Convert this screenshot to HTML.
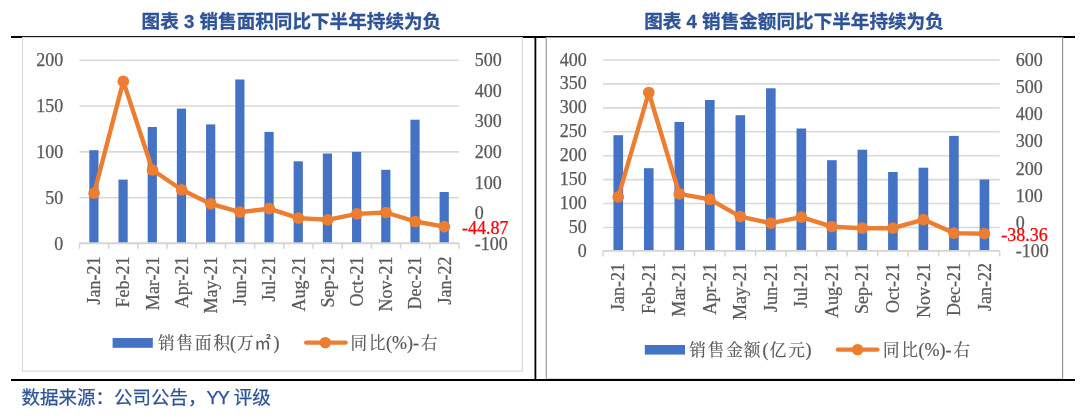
<!DOCTYPE html>
<html lang="zh"><head><meta charset="utf-8"><title>chart</title>
<style>
html,body{margin:0;padding:0;background:#fff;}
body{width:1080px;height:417px;position:relative;overflow:hidden;font-family:"Liberation Sans","Noto Sans CJK SC",sans-serif;}
.title{position:absolute;top:9.5px;height:24px;line-height:24px;font-size:18.6px;font-weight:bold;color:#2F5496;-webkit-text-stroke:0.3px #2F5496;white-space:nowrap;transform:translateX(-50%);}
.foot{position:absolute;left:21.5px;top:385.2px;height:26px;line-height:26px;font-size:18.5px;color:#2F5496;-webkit-text-stroke:0.25px #2F5496;white-space:nowrap;}
.hl{position:absolute;background:#000;}
.box{position:absolute;background:#fff;box-sizing:border-box;}
svg{position:absolute;left:0;top:0;}
.ax{font-family:"Liberation Serif",serif;font-size:18px;fill:#595959;stroke:#595959;stroke-width:0.25px;}
.lg{font-family:"Liberation Serif","Noto Serif CJK SC",serif;font-size:18px;fill:#595959;stroke:#595959;stroke-width:0.2px;}
.cj{font-size:16.5px;}
</style></head><body>
<div class="title" style="left:291.4px">图表 3 销售面积同比下半年持续为负</div>
<div class="title" style="left:794px">图表 4 销售金额同比下半年持续为负</div>
<div class="hl" style="left:11px;top:36px;width:1064px;height:2px"></div>
<div class="hl" style="left:11px;top:379px;width:1064px;height:2px"></div>
<svg width="1080" height="417" viewBox="0 0 1080 417">
<rect x="534.5" y="37" width="1.8" height="343" fill="#000"/>
<rect x="22.5" y="37.5" width="499.8" height="333.6" fill="#fff" stroke="#D9D9D9" stroke-width="1.2"/>
<path d="M546.3 379 V37.5 H1062.6 V379" fill="#fff" stroke="#999" stroke-width="1.2"/>
<line x1="546.3" y1="378.3" x2="1062.6" y2="378.3" stroke="#D9D9D9" stroke-width="1"/>
<line x1="79.5" y1="60.20" x2="459.0" y2="60.20" stroke="#D9D9D9" stroke-width="1.6"/>
<text x="63.3" y="66.10" text-anchor="end" class="ax">200</text>
<line x1="79.5" y1="106.05" x2="459.0" y2="106.05" stroke="#D9D9D9" stroke-width="1.6"/>
<text x="63.3" y="111.98" text-anchor="end" class="ax">150</text>
<line x1="79.5" y1="151.90" x2="459.0" y2="151.90" stroke="#D9D9D9" stroke-width="1.6"/>
<text x="63.3" y="157.85" text-anchor="end" class="ax">100</text>
<line x1="79.5" y1="197.75" x2="459.0" y2="197.75" stroke="#D9D9D9" stroke-width="1.6"/>
<text x="63.3" y="203.72" text-anchor="end" class="ax">50</text>
<text x="63.3" y="249.60" text-anchor="end" class="ax">0</text>
<text x="474.7" y="66.10" class="ax">500</text>
<text x="474.7" y="96.72" class="ax">400</text>
<text x="474.7" y="127.33" class="ax">300</text>
<text x="474.7" y="157.95" class="ax">200</text>
<text x="474.7" y="188.57" class="ax">100</text>
<text x="474.7" y="219.18" class="ax">0</text>
<text x="474.7" y="249.80" class="ax">-100</text>
<line x1="79.50" y1="243.2" x2="79.50" y2="248.7" stroke="#D4D4D4" stroke-width="1.5"/>
<line x1="108.69" y1="243.2" x2="108.69" y2="248.7" stroke="#D4D4D4" stroke-width="1.5"/>
<line x1="137.88" y1="243.2" x2="137.88" y2="248.7" stroke="#D4D4D4" stroke-width="1.5"/>
<line x1="167.08" y1="243.2" x2="167.08" y2="248.7" stroke="#D4D4D4" stroke-width="1.5"/>
<line x1="196.27" y1="243.2" x2="196.27" y2="248.7" stroke="#D4D4D4" stroke-width="1.5"/>
<line x1="225.46" y1="243.2" x2="225.46" y2="248.7" stroke="#D4D4D4" stroke-width="1.5"/>
<line x1="254.65" y1="243.2" x2="254.65" y2="248.7" stroke="#D4D4D4" stroke-width="1.5"/>
<line x1="283.85" y1="243.2" x2="283.85" y2="248.7" stroke="#D4D4D4" stroke-width="1.5"/>
<line x1="313.04" y1="243.2" x2="313.04" y2="248.7" stroke="#D4D4D4" stroke-width="1.5"/>
<line x1="342.23" y1="243.2" x2="342.23" y2="248.7" stroke="#D4D4D4" stroke-width="1.5"/>
<line x1="371.42" y1="243.2" x2="371.42" y2="248.7" stroke="#D4D4D4" stroke-width="1.5"/>
<line x1="400.62" y1="243.2" x2="400.62" y2="248.7" stroke="#D4D4D4" stroke-width="1.5"/>
<line x1="429.81" y1="243.2" x2="429.81" y2="248.7" stroke="#D4D4D4" stroke-width="1.5"/>
<line x1="459.00" y1="243.2" x2="459.00" y2="248.7" stroke="#D4D4D4" stroke-width="1.5"/>
<rect x="89.30" y="150.20" width="9.2" height="93.00" fill="#4472C4"/>
<rect x="118.49" y="179.60" width="9.2" height="63.60" fill="#4472C4"/>
<rect x="147.68" y="127.00" width="9.2" height="116.20" fill="#4472C4"/>
<rect x="176.87" y="108.60" width="9.2" height="134.60" fill="#4472C4"/>
<rect x="206.07" y="124.40" width="9.2" height="118.80" fill="#4472C4"/>
<rect x="235.26" y="79.50" width="9.2" height="163.70" fill="#4472C4"/>
<rect x="264.45" y="131.90" width="9.2" height="111.30" fill="#4472C4"/>
<rect x="293.64" y="161.30" width="9.2" height="81.90" fill="#4472C4"/>
<rect x="322.83" y="153.50" width="9.2" height="89.70" fill="#4472C4"/>
<rect x="352.03" y="151.90" width="9.2" height="91.30" fill="#4472C4"/>
<rect x="381.22" y="169.80" width="9.2" height="73.40" fill="#4472C4"/>
<rect x="410.41" y="119.70" width="9.2" height="123.50" fill="#4472C4"/>
<rect x="439.60" y="192.00" width="9.2" height="51.20" fill="#4472C4"/>
<line x1="79.5" y1="243.2" x2="459.0" y2="243.2" stroke="#D4D4D4" stroke-width="1.9"/>
<text transform="translate(100.20,256.5) rotate(-90)" text-anchor="end" class="ax">Jan-21</text>
<text transform="translate(129.39,256.5) rotate(-90)" text-anchor="end" class="ax">Feb-21</text>
<text transform="translate(158.58,256.5) rotate(-90)" text-anchor="end" class="ax">Mar-21</text>
<text transform="translate(187.77,256.5) rotate(-90)" text-anchor="end" class="ax">Apr-21</text>
<text transform="translate(216.97,256.5) rotate(-90)" text-anchor="end" class="ax">May-21</text>
<text transform="translate(246.16,256.5) rotate(-90)" text-anchor="end" class="ax">Jun-21</text>
<text transform="translate(275.35,256.5) rotate(-90)" text-anchor="end" class="ax">Jul-21</text>
<text transform="translate(304.54,256.5) rotate(-90)" text-anchor="end" class="ax">Aug-21</text>
<text transform="translate(333.73,256.5) rotate(-90)" text-anchor="end" class="ax">Sep-21</text>
<text transform="translate(362.93,256.5) rotate(-90)" text-anchor="end" class="ax">Oct-21</text>
<text transform="translate(392.12,256.5) rotate(-90)" text-anchor="end" class="ax">Nov-21</text>
<text transform="translate(421.31,256.5) rotate(-90)" text-anchor="end" class="ax">Dec-21</text>
<text transform="translate(450.50,256.5) rotate(-90)" text-anchor="end" class="ax">Jan-22</text>
<polyline points="94.10,193.20 123.29,81.40 152.48,170.00 181.67,189.80 210.87,203.90 240.06,212.10 269.25,208.70 298.44,218.10 327.63,219.80 356.83,213.90 386.02,212.50 415.21,221.50 444.40,226.60" fill="none" stroke="#ED7D31" stroke-width="4.4" stroke-linejoin="round" stroke-linecap="round"/>
<circle cx="94.10" cy="193.20" r="5.85" fill="#ED7D31"/>
<circle cx="123.29" cy="81.40" r="5.85" fill="#ED7D31"/>
<circle cx="152.48" cy="170.00" r="5.85" fill="#ED7D31"/>
<circle cx="181.67" cy="189.80" r="5.85" fill="#ED7D31"/>
<circle cx="210.87" cy="203.90" r="5.85" fill="#ED7D31"/>
<circle cx="240.06" cy="212.10" r="5.85" fill="#ED7D31"/>
<circle cx="269.25" cy="208.70" r="5.85" fill="#ED7D31"/>
<circle cx="298.44" cy="218.10" r="5.85" fill="#ED7D31"/>
<circle cx="327.63" cy="219.80" r="5.85" fill="#ED7D31"/>
<circle cx="356.83" cy="213.90" r="5.85" fill="#ED7D31"/>
<circle cx="386.02" cy="212.50" r="5.85" fill="#ED7D31"/>
<circle cx="415.21" cy="221.50" r="5.85" fill="#ED7D31"/>
<circle cx="444.40" cy="226.60" r="5.85" fill="#ED7D31"/>
<text x="462" y="234" class="ax" style="fill:#FF0000;stroke:#FF0000">-44.87</text>
<rect x="112.6" y="338" width="40.2" height="9.8" fill="#4472C4"/>
<text y="348.6" class="lg"><tspan class="cj" x="158 176.5 195 213.5">销售面积</tspan><tspan x="230">(</tspan><tspan class="cj" x="237">万</tspan><tspan class="cj" x="254.5" style="font-family:'Liberation Sans','Noto Sans CJK SC',sans-serif">㎡</tspan><tspan x="273.6">)</tspan></text>
<line x1="306.2" y1="342.6" x2="345.6" y2="342.6" stroke="#ED7D31" stroke-width="4.4" stroke-linecap="round"/>
<circle cx="325.3" cy="342.6" r="5.7" fill="#ED7D31"/>
<text y="348.6" class="lg"><tspan class="cj" x="350.6 369.1">同比</tspan><tspan x="386">(%)-</tspan><tspan class="cj" x="421">右</tspan></text>
<line x1="603.0" y1="60.00" x2="999.7" y2="60.00" stroke="#D9D9D9" stroke-width="1.6"/>
<text x="586.8" y="65.50" text-anchor="end" class="ax">400</text>
<line x1="603.0" y1="83.92" x2="999.7" y2="83.92" stroke="#D9D9D9" stroke-width="1.6"/>
<text x="586.8" y="89.46" text-anchor="end" class="ax">350</text>
<line x1="603.0" y1="107.85" x2="999.7" y2="107.85" stroke="#D9D9D9" stroke-width="1.6"/>
<text x="586.8" y="113.42" text-anchor="end" class="ax">300</text>
<line x1="603.0" y1="131.78" x2="999.7" y2="131.78" stroke="#D9D9D9" stroke-width="1.6"/>
<text x="586.8" y="137.39" text-anchor="end" class="ax">250</text>
<line x1="603.0" y1="155.70" x2="999.7" y2="155.70" stroke="#D9D9D9" stroke-width="1.6"/>
<text x="586.8" y="161.35" text-anchor="end" class="ax">200</text>
<line x1="603.0" y1="179.62" x2="999.7" y2="179.62" stroke="#D9D9D9" stroke-width="1.6"/>
<text x="586.8" y="185.31" text-anchor="end" class="ax">150</text>
<line x1="603.0" y1="203.55" x2="999.7" y2="203.55" stroke="#D9D9D9" stroke-width="1.6"/>
<text x="586.8" y="209.28" text-anchor="end" class="ax">100</text>
<line x1="603.0" y1="227.47" x2="999.7" y2="227.47" stroke="#D9D9D9" stroke-width="1.6"/>
<text x="586.8" y="233.24" text-anchor="end" class="ax">50</text>
<text x="586.8" y="257.20" text-anchor="end" class="ax">0</text>
<text x="1015.8" y="65.50" class="ax">600</text>
<text x="1015.8" y="92.83" class="ax">500</text>
<text x="1015.8" y="120.16" class="ax">400</text>
<text x="1015.8" y="147.49" class="ax">300</text>
<text x="1015.8" y="174.81" class="ax">200</text>
<text x="1015.8" y="202.14" class="ax">100</text>
<text x="1015.8" y="229.47" class="ax">0</text>
<text x="1015.8" y="256.80" class="ax">-100</text>
<line x1="603.00" y1="250.9" x2="603.00" y2="256.4" stroke="#D4D4D4" stroke-width="1.5"/>
<line x1="633.52" y1="250.9" x2="633.52" y2="256.4" stroke="#D4D4D4" stroke-width="1.5"/>
<line x1="664.03" y1="250.9" x2="664.03" y2="256.4" stroke="#D4D4D4" stroke-width="1.5"/>
<line x1="694.55" y1="250.9" x2="694.55" y2="256.4" stroke="#D4D4D4" stroke-width="1.5"/>
<line x1="725.06" y1="250.9" x2="725.06" y2="256.4" stroke="#D4D4D4" stroke-width="1.5"/>
<line x1="755.58" y1="250.9" x2="755.58" y2="256.4" stroke="#D4D4D4" stroke-width="1.5"/>
<line x1="786.09" y1="250.9" x2="786.09" y2="256.4" stroke="#D4D4D4" stroke-width="1.5"/>
<line x1="816.61" y1="250.9" x2="816.61" y2="256.4" stroke="#D4D4D4" stroke-width="1.5"/>
<line x1="847.12" y1="250.9" x2="847.12" y2="256.4" stroke="#D4D4D4" stroke-width="1.5"/>
<line x1="877.64" y1="250.9" x2="877.64" y2="256.4" stroke="#D4D4D4" stroke-width="1.5"/>
<line x1="908.15" y1="250.9" x2="908.15" y2="256.4" stroke="#D4D4D4" stroke-width="1.5"/>
<line x1="938.67" y1="250.9" x2="938.67" y2="256.4" stroke="#D4D4D4" stroke-width="1.5"/>
<line x1="969.18" y1="250.9" x2="969.18" y2="256.4" stroke="#D4D4D4" stroke-width="1.5"/>
<line x1="999.70" y1="250.9" x2="999.70" y2="256.4" stroke="#D4D4D4" stroke-width="1.5"/>
<rect x="613.46" y="135.20" width="9.6" height="115.70" fill="#4472C4"/>
<rect x="643.97" y="168.20" width="9.6" height="82.70" fill="#4472C4"/>
<rect x="674.49" y="122.00" width="9.6" height="128.90" fill="#4472C4"/>
<rect x="705.00" y="100.00" width="9.6" height="150.90" fill="#4472C4"/>
<rect x="735.52" y="115.20" width="9.6" height="135.70" fill="#4472C4"/>
<rect x="766.03" y="88.30" width="9.6" height="162.60" fill="#4472C4"/>
<rect x="796.55" y="128.50" width="9.6" height="122.40" fill="#4472C4"/>
<rect x="827.07" y="160.20" width="9.6" height="90.70" fill="#4472C4"/>
<rect x="857.58" y="149.70" width="9.6" height="101.20" fill="#4472C4"/>
<rect x="888.10" y="172.00" width="9.6" height="78.90" fill="#4472C4"/>
<rect x="918.61" y="167.70" width="9.6" height="83.20" fill="#4472C4"/>
<rect x="949.13" y="135.90" width="9.6" height="115.00" fill="#4472C4"/>
<rect x="979.64" y="179.50" width="9.6" height="71.40" fill="#4472C4"/>
<line x1="603.0" y1="250.9" x2="999.7" y2="250.9" stroke="#D4D4D4" stroke-width="1.9"/>
<text transform="translate(624.36,263) rotate(-90)" text-anchor="end" class="ax">Jan-21</text>
<text transform="translate(654.87,263) rotate(-90)" text-anchor="end" class="ax">Feb-21</text>
<text transform="translate(685.39,263) rotate(-90)" text-anchor="end" class="ax">Mar-21</text>
<text transform="translate(715.90,263) rotate(-90)" text-anchor="end" class="ax">Apr-21</text>
<text transform="translate(746.42,263) rotate(-90)" text-anchor="end" class="ax">May-21</text>
<text transform="translate(776.93,263) rotate(-90)" text-anchor="end" class="ax">Jun-21</text>
<text transform="translate(807.45,263) rotate(-90)" text-anchor="end" class="ax">Jul-21</text>
<text transform="translate(837.97,263) rotate(-90)" text-anchor="end" class="ax">Aug-21</text>
<text transform="translate(868.48,263) rotate(-90)" text-anchor="end" class="ax">Sep-21</text>
<text transform="translate(899.00,263) rotate(-90)" text-anchor="end" class="ax">Oct-21</text>
<text transform="translate(929.51,263) rotate(-90)" text-anchor="end" class="ax">Nov-21</text>
<text transform="translate(960.03,263) rotate(-90)" text-anchor="end" class="ax">Dec-21</text>
<text transform="translate(990.54,263) rotate(-90)" text-anchor="end" class="ax">Jan-22</text>
<polyline points="618.26,196.90 648.77,92.50 679.29,193.80 709.80,199.30 740.32,216.60 770.83,223.10 801.35,217.10 831.87,226.70 862.38,228.20 892.90,228.20 923.41,219.60 953.93,233.10 984.44,233.70" fill="none" stroke="#ED7D31" stroke-width="4.4" stroke-linejoin="round" stroke-linecap="round"/>
<circle cx="618.26" cy="196.90" r="5.85" fill="#ED7D31"/>
<circle cx="648.77" cy="92.50" r="5.85" fill="#ED7D31"/>
<circle cx="679.29" cy="193.80" r="5.85" fill="#ED7D31"/>
<circle cx="709.80" cy="199.30" r="5.85" fill="#ED7D31"/>
<circle cx="740.32" cy="216.60" r="5.85" fill="#ED7D31"/>
<circle cx="770.83" cy="223.10" r="5.85" fill="#ED7D31"/>
<circle cx="801.35" cy="217.10" r="5.85" fill="#ED7D31"/>
<circle cx="831.87" cy="226.70" r="5.85" fill="#ED7D31"/>
<circle cx="862.38" cy="228.20" r="5.85" fill="#ED7D31"/>
<circle cx="892.90" cy="228.20" r="5.85" fill="#ED7D31"/>
<circle cx="923.41" cy="219.60" r="5.85" fill="#ED7D31"/>
<circle cx="953.93" cy="233.10" r="5.85" fill="#ED7D31"/>
<circle cx="984.44" cy="233.70" r="5.85" fill="#ED7D31"/>
<text x="1001.3" y="241" class="ax" style="fill:#FF0000;stroke:#FF0000">-38.36</text>
<rect x="644.8" y="345" width="40.2" height="9.6" fill="#4472C4"/>
<text y="355.6" class="lg"><tspan class="cj" x="689.3 707.8 726.3 743.9">销售金额</tspan><tspan x="762.5">(</tspan><tspan class="cj" x="769.8">亿</tspan><tspan class="cj" x="788.4">元</tspan><tspan x="805.6">)</tspan></text>
<line x1="838" y1="349.6" x2="877.4" y2="349.6" stroke="#ED7D31" stroke-width="4.4" stroke-linecap="round"/>
<circle cx="857.6" cy="349.6" r="5.7" fill="#ED7D31"/>
<text y="355.6" class="lg"><tspan class="cj" x="883 901.5">同比</tspan><tspan x="918.5">(%)-</tspan><tspan class="cj" x="953.5">右</tspan></text>
</svg>
<div class="foot">数据来源：公司公告，<span style="letter-spacing:-1.3px">YY</span> 评级</div>
</body></html>
